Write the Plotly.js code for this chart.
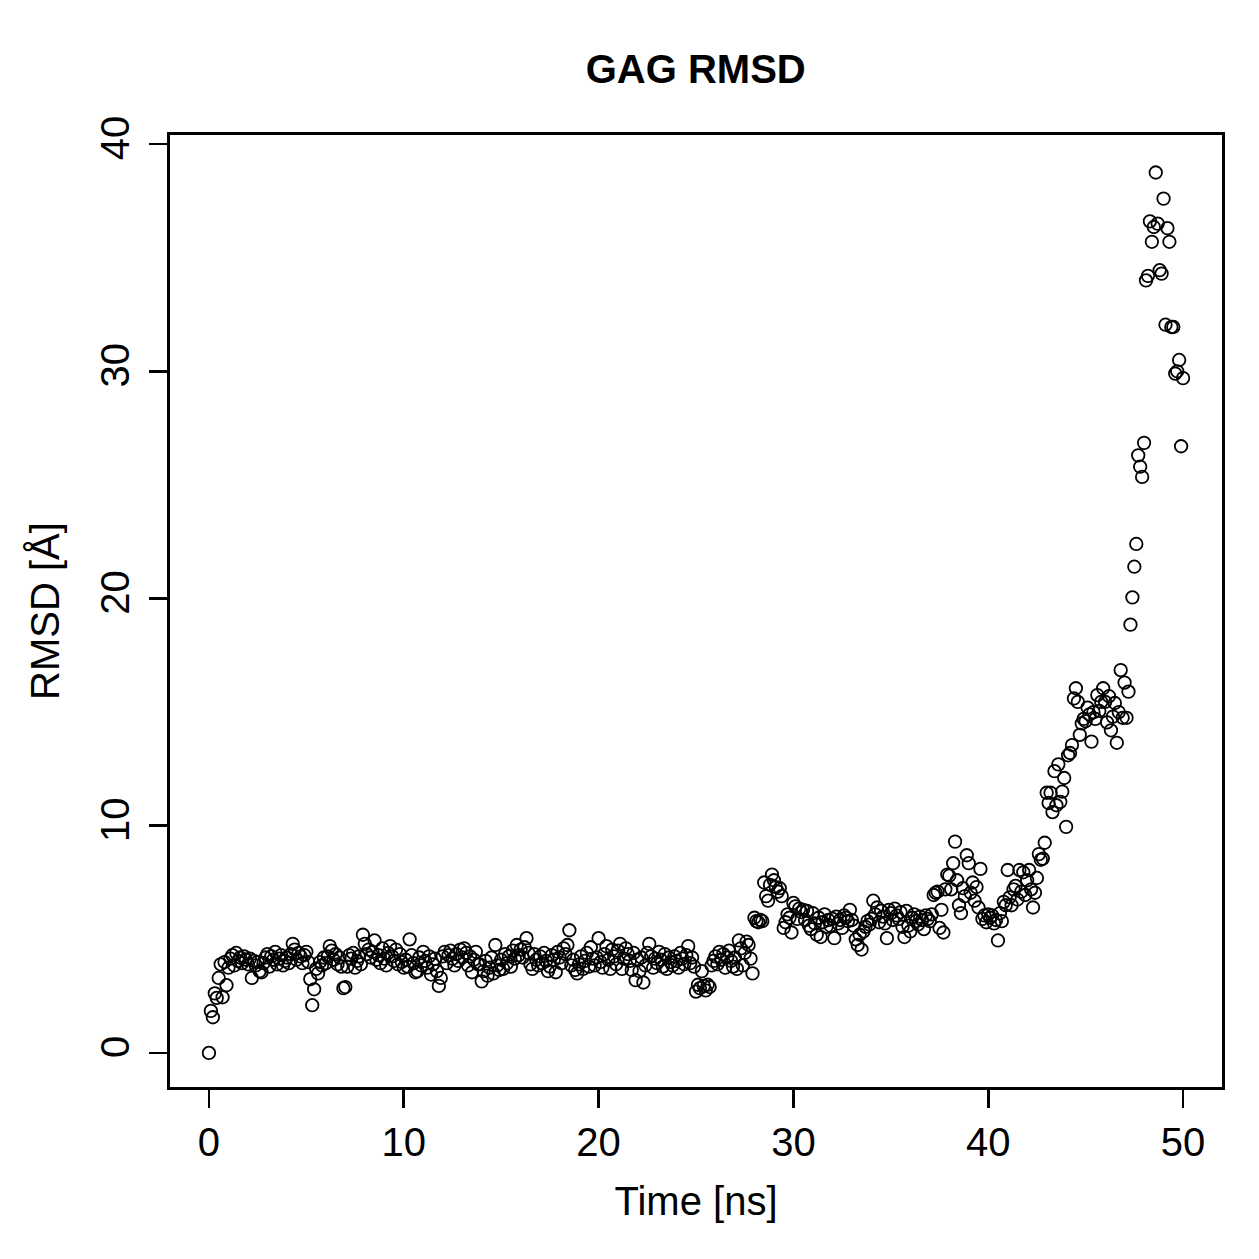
<!DOCTYPE html>
<html>
<head>
<meta charset="utf-8">
<script src="https://cdn.plot.ly/plotly-3.0.1.min.js"></script>
<style>html,body{margin:0;padding:0;background:#fff;}</style>
</head>
<body>
<div id="chart" style="width:1259px;height:1259px;"></div>
<script>
const chartTitle = "GAG RMSD";
const xLabel = "Time [ns]";
const yLabel = "RMSD [Å]";
const xTicks = [0, 10, 20, 30, 40, 50];
const yTicks = [0, 10, 20, 30, 40];
const timeStepNs = 0.1;

// RMSD values (Å), one per 0.1 ns frame, grouped by nanosecond
const rmsd = [
  0.00, 1.85, 1.57, 2.62, 2.42, 3.30, 3.90, 2.45, 4.00, 2.98,   // 0
  3.75, 4.15, 4.30, 3.85, 4.40, 4.05, 4.20, 3.95, 4.25, 4.10,   // 1
  3.90, 4.15, 3.30, 4.05, 3.85, 4.00, 3.60, 3.55, 3.95, 4.20,   // 2
  4.35, 3.80, 4.25, 4.10, 4.45, 3.90, 4.15, 4.30, 3.85, 4.05,   // 3
  4.20, 3.95, 4.35, 4.80, 4.55, 4.10, 4.40, 4.25, 3.95, 4.30,   // 4
  4.45, 4.00, 3.25, 2.10, 2.80, 3.70, 3.50, 4.00, 3.85, 4.20,   // 5
  3.95, 4.25, 4.70, 4.50, 4.10, 4.35, 3.90, 4.20, 3.80, 2.85,   // 6
  2.90, 3.80, 4.30, 4.15, 4.40, 3.75, 4.05, 4.25, 3.90, 5.20,   // 7
  4.80, 4.35, 4.55, 4.20, 4.45, 4.95, 4.10, 4.30, 3.95, 4.60,   // 8
  4.15, 3.85, 4.40, 4.70, 4.25, 4.05, 4.55, 3.90, 4.35, 4.00,   // 9
  3.75, 4.10, 3.80, 5.00, 4.30, 3.95, 3.55, 3.60, 4.20, 3.85,   // 10
  4.45, 4.05, 3.75, 4.25, 3.45, 3.90, 4.15, 3.60, 2.95, 3.30,   // 11
  4.25, 4.45, 3.95, 4.30, 4.50, 4.15, 3.85, 4.35, 4.05, 4.55,   // 12
  4.20, 4.60, 4.40, 3.85, 4.25, 3.55, 4.10, 4.45, 3.90, 3.90,   // 13
  3.15, 3.60, 4.05, 3.40, 3.75, 4.20, 3.50, 4.75, 3.85, 3.65,   // 14
  4.10, 3.70, 4.35, 3.95, 4.25, 3.80, 4.50, 4.15, 4.75, 4.30,   // 15
  4.55, 4.20, 4.65, 5.05, 4.40, 3.90, 3.70, 4.35, 4.10, 3.85,   // 16
  4.25, 3.95, 4.40, 4.05, 3.60, 3.80, 4.30, 4.10, 3.55, 4.45,   // 17
  4.20, 3.95, 4.60, 4.35, 4.75, 5.40, 3.85, 4.10, 3.65, 3.50,   // 18
  3.90, 4.25, 3.70, 4.05, 4.40, 3.80, 4.65, 4.15, 3.85, 4.20,   // 19
  5.05, 4.00, 3.75, 4.35, 4.70, 4.10, 3.70, 4.55, 4.25, 3.90,   // 20
  4.50, 4.80, 3.70, 4.15, 4.60, 4.35, 4.05, 3.65, 4.40, 3.20,   // 21
  4.10, 3.60, 4.20, 3.10, 3.85, 4.40, 4.80, 4.25, 3.75, 4.15,   // 22
  3.95, 4.45, 4.10, 3.80, 4.35, 3.70, 4.20, 4.00, 3.85, 4.25,   // 23
  4.05, 3.75, 4.40, 4.15, 3.90, 4.30, 4.70, 3.95, 4.20, 3.80,   // 24
  2.70, 3.00, 2.85, 3.60, 2.95, 2.75, 3.00, 2.90, 3.85, 4.05,   // 25
  4.25, 3.90, 4.45, 4.10, 4.35, 3.75, 4.20, 4.50, 4.05, 3.80,   // 26
  4.20, 3.70, 4.95, 4.60, 3.85, 4.40, 4.90, 4.75, 4.15, 3.50,   // 27
  5.95, 5.80, 5.75, 5.85, 5.80, 7.50, 6.90, 6.70, 7.40, 7.85,   // 28
  7.60, 7.30, 7.10, 7.25, 6.90, 5.50, 5.75, 6.10, 5.95, 5.30,   // 29
  6.60, 6.45, 5.90, 6.35, 6.20, 6.30, 5.85, 6.25, 5.60, 5.45,   // 30
  6.15, 5.70, 5.20, 5.95, 5.10, 5.75, 6.10, 5.55, 5.85, 5.60,   // 31
  5.90, 5.05, 6.00, 5.70, 5.85, 5.50, 6.05, 5.95, 5.80, 6.30,   // 32
  5.85, 5.60, 5.00, 4.75, 5.20, 4.55, 5.35, 5.55, 5.80, 5.65,   // 33
  5.90, 6.70, 6.10, 6.40, 5.75, 6.25, 6.00, 5.70, 5.05, 6.30,   // 34
  6.15, 5.85, 6.35, 6.05, 5.90, 6.20, 5.55, 5.10, 6.25, 5.60,   // 35
  5.35, 5.95, 6.10, 5.80, 5.65, 6.00, 5.85, 5.45, 6.05, 5.90,   // 36
  5.80, 6.10, 6.95, 7.05, 7.10, 5.50, 6.30, 5.30, 7.20, 7.85,   // 37
  7.80, 7.20, 8.35, 9.30, 7.60, 6.50, 6.15, 7.25, 6.90, 8.70,   // 38
  8.35, 7.05, 7.50, 6.70, 7.30, 6.40, 8.10, 5.90, 6.05, 5.75,   // 39
  6.10, 5.95, 6.05, 5.70, 5.85, 4.95, 6.15, 5.80, 6.65, 6.50,   // 40
  8.05, 6.85, 6.50, 7.20, 7.35, 6.75, 8.05, 7.10, 7.95, 6.95,   // 41
  7.60, 8.05, 7.20, 6.40, 7.05, 7.70, 8.75, 8.50, 8.55, 9.25,   // 42
  11.45, 11.00, 11.45, 10.60, 12.40, 10.90, 12.70, 11.05, 11.50, 12.10, // 43
  9.95, 13.10, 13.20, 13.55, 15.60, 16.05, 15.45, 14.00, 14.50, 14.70,  // 44
  14.60, 15.20, 14.90, 13.70, 15.00, 14.70, 15.75, 15.05, 15.45, 16.05, // 45
  15.45, 14.55, 15.70, 14.20, 14.80, 15.40, 13.65, 15.00, 16.85, 14.75, // 46
  16.30, 14.75, 15.90, 18.85, 20.05, 21.40, 22.40, 26.30, 25.80, 25.35, // 47
  26.85, 34.00, 34.20, 36.60, 35.70, 36.35, 38.75, 36.50, 34.45, 34.30, // 48
  37.60, 32.05, 36.30, 35.70, 31.95, 31.95, 29.90, 30.00, 30.50, 26.70, // 49
  29.70                                                                // 50
];
const timeNs = rmsd.map((_, i) => +(i * timeStepNs).toFixed(1));

const font = "Liberation Sans, Arial, Helvetica, sans-serif";

const trace = {
  x: timeNs,
  y: rmsd,
  type: "scatter",
  mode: "markers",
  marker: {
    symbol: "circle-open",
    size: 12.5,
    color: "#000",
    line: { color: "#000", width: 1.8 }
  },
  hoverinfo: "x+y"
};

const axisCommon = {
  showgrid: false,
  zeroline: false,
  showline: true,
  mirror: true,
  linecolor: "#000",
  linewidth: 2.8,
  ticks: "outside",
  ticklen: 18,
  tickwidth: 2.8,
  tickcolor: "#000",
  tickfont: { family: font, size: 40, color: "#000" }
};

const layout = {
  width: 1259,
  height: 1259,
  margin: { l: 170, r: 37, t: 135, b: 172 },
  paper_bgcolor: "#fff",
  plot_bgcolor: "#fff",
  showlegend: false,
  title: {
    text: "<b>" + chartTitle + "</b>",
    font: { family: font, size: 40, color: "#000" },
    x: 0.5526, xref: "container",
    y: 1 - 69 / 1259, yref: "container", yanchor: "middle"
  },
  xaxis: Object.assign({}, axisCommon, {
    range: [-2, 52],
    tickvals: xTicks,
    ticktext: xTicks.map(String),
    ticklabelstandoff: 0,
    title: { text: xLabel, font: { family: font, size: 40, color: "#000" }, standoff: 25 }
  }),
  yaxis: Object.assign({}, axisCommon, {
    range: [-1.5, 40.4],
    tickvals: yTicks,
    ticktext: yTicks.map(String),
    tickangle: -90,
    ticklabelstandoff: 4,
    title: { text: yLabel, font: { family: font, size: 40, color: "#000" }, standoff: 22 }
  })
};

Plotly.newPlot("chart", [trace], layout, { displayModeBar: false, staticPlot: true });
</script>
</body>
</html>
